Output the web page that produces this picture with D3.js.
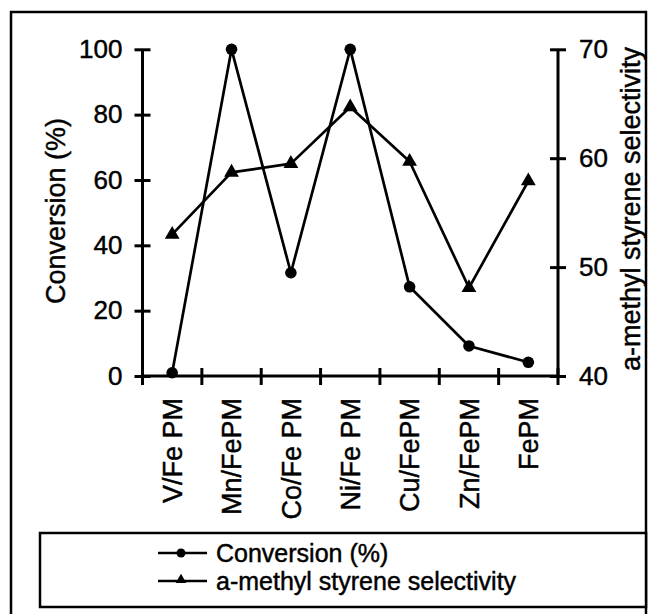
<!DOCTYPE html>
<html>
<head>
<meta charset="utf-8">
<script src="https://cdn.jsdelivr.net/npm/d3@7/dist/d3.min.js"></script>
<style>
  html, body { margin: 0; padding: 0; background: #fff; }
  svg { display: block; font-family: "Liberation Sans", Arial, Helvetica, sans-serif; }
  text { stroke: #000; stroke-width: 0.45px; }
</style>
</head>
<body>
<svg id="chart" width="654" height="614"></svg>
<script>
// Catalyst samples and measured values
const categories = ["V/Fe PM", "Mn/FePM", "Co/Fe PM", "Ni/Fe PM", "Cu/FePM", "Zn/FePM", "FePM"];
const conversion = [1.0, 100, 31.6, 100, 27.3, 9.2, 4.2];          // %
const selectivity = [53.0, 58.7, 59.5, 64.7, 59.7, 48.1, 57.9];    // a-methyl styrene selectivity
const leftTicks = [0, 20, 40, 60, 80, 100];
const rightTicks = [40, 50, 60, 70];
const seriesNames = ["Conversion (%)", "a-methyl styrene selectivity"];

const svg = d3.select("#chart");
const ink = "#000";
const font = "Liberation Sans, Arial, Helvetica, sans-serif";
const axisW = 3;
const lineW = 2.7;

// Outer frame
svg.append("rect")
  .attr("x", 11).attr("y", 12).attr("width", 635).attr("height", 640)
  .attr("fill", "none").attr("stroke", ink).attr("stroke-width", 2.5);

const plot = { left: 142.5, right: 558, top: 49.3, bottom: 376 };

const x = d3.scaleBand().domain(categories).range([plot.left, plot.right]).padding(0);
const yL = d3.scaleLinear().domain([0, 100]).range([plot.bottom, plot.top]);
const yR = d3.scaleLinear().domain([40, 70]).range([plot.bottom, plot.top]);
const cx = d => x(d) + x.bandwidth() / 2;

// Left axis
const gL = svg.append("g").attr("transform", `translate(${plot.left},0)`)
  .call(d3.axisLeft(yL).tickValues(leftTicks).tickSize(8).tickPadding(12));
gL.selectAll(".tick line").attr("x1", 8).attr("stroke-width", axisW);
gL.select(".domain").attr("d", `M0,${plot.top}V${plot.bottom}`).attr("stroke-width", axisW);
gL.selectAll(".tick text").attr("font-size", 26).attr("font-family", font).attr("fill", ink);

// Right axis
const gR = svg.append("g").attr("transform", `translate(${plot.right},0)`)
  .call(d3.axisRight(yR).tickValues(rightTicks).tickSize(8).tickPadding(13));
gR.selectAll(".tick line").attr("x1", -8).attr("stroke-width", axisW);
gR.select(".domain").attr("d", `M0,${plot.top}V${plot.bottom}`).attr("stroke-width", axisW);
gR.selectAll(".tick text").attr("font-size", 26).attr("font-family", font).attr("fill", ink);

// Bottom axis: labels at band centres, ticks on band boundaries
const gB = svg.append("g").attr("transform", `translate(0,${plot.bottom})`)
  .call(d3.axisBottom(x).tickSize(0).tickPadding(0));
gB.select(".domain").attr("d", `M${plot.left},0H${plot.right}`).attr("stroke-width", axisW);
gB.selectAll(".tick text")
  .attr("font-size", 27).attr("font-family", font).attr("fill", ink)
  .attr("transform", "rotate(-90)")
  .attr("text-anchor", "end")
  .attr("x", -22).attr("y", 0).attr("dy", "0.36em");
const bounds = categories.map(c => x(c)).concat([x.range()[1]]);
gB.selectAll("line.bound").data(bounds).join("line")
  .attr("class", "bound")
  .attr("x1", d => d).attr("x2", d => d)
  .attr("y1", -8).attr("y2", 9)
  .attr("stroke", ink).attr("stroke-width", axisW);

// Axis titles
svg.append("text")
  .attr("transform", `translate(65,211) rotate(-90)`)
  .attr("text-anchor", "middle")
  .attr("font-size", 27).attr("fill", ink)
  .text("Conversion (%)");
svg.append("text")
  .attr("transform", `translate(640,209) rotate(-90)`)
  .attr("text-anchor", "middle")
  .attr("font-size", 27).attr("fill", ink)
  .text("a-methyl styrene selectivity");

// Series lines
const lineL = d3.line().x((d, i) => cx(categories[i])).y(d => yL(d));
const lineR = d3.line().x((d, i) => cx(categories[i])).y(d => yR(d));

svg.append("path").attr("d", lineL(conversion))
  .attr("fill", "none").attr("stroke", ink).attr("stroke-width", lineW).attr("stroke-linejoin", "round");
svg.append("path").attr("d", lineR(selectivity))
  .attr("fill", "none").attr("stroke", ink).attr("stroke-width", lineW).attr("stroke-linejoin", "round");

// Markers
const tri = d3.symbol().type(d3.symbolTriangle).size(95);
svg.selectAll("circle.conv").data(conversion).join("circle")
  .attr("class", "conv")
  .attr("cx", (d, i) => cx(categories[i])).attr("cy", d => yL(d))
  .attr("r", 5.8).attr("fill", ink);
svg.selectAll("path.sel").data(selectivity).join("path")
  .attr("class", "sel")
  .attr("d", tri)
  .attr("transform", (d, i) => `translate(${cx(categories[i])},${yR(d)})`)
  .attr("fill", ink);

// Legend
const lg = svg.append("g");
lg.append("rect")
  .attr("x", 40).attr("y", 533).attr("width", 606).attr("height", 74)
  .attr("fill", "#fff").attr("stroke", ink).attr("stroke-width", 2.5);
const rows = [553, 581];
seriesNames.forEach((name, i) => {
  const yy = rows[i];
  lg.append("line").attr("x1", 158).attr("x2", 207).attr("y1", yy).attr("y2", yy)
    .attr("stroke", ink).attr("stroke-width", lineW);
  if (i === 0) {
    lg.append("circle").attr("cx", 181).attr("cy", yy).attr("r", 4.5).attr("fill", ink);
  } else {
    lg.append("path").attr("d", d3.symbol().type(d3.symbolTriangle).size(50))
      .attr("transform", `translate(181,${yy - 1})`).attr("fill", ink);
  }
  lg.append("text").attr("x", 216).attr("y", yy).attr("dy", "0.35em")
    .attr("font-size", 25).attr("fill", ink).text(name);
});
</script>
</body>
</html>
